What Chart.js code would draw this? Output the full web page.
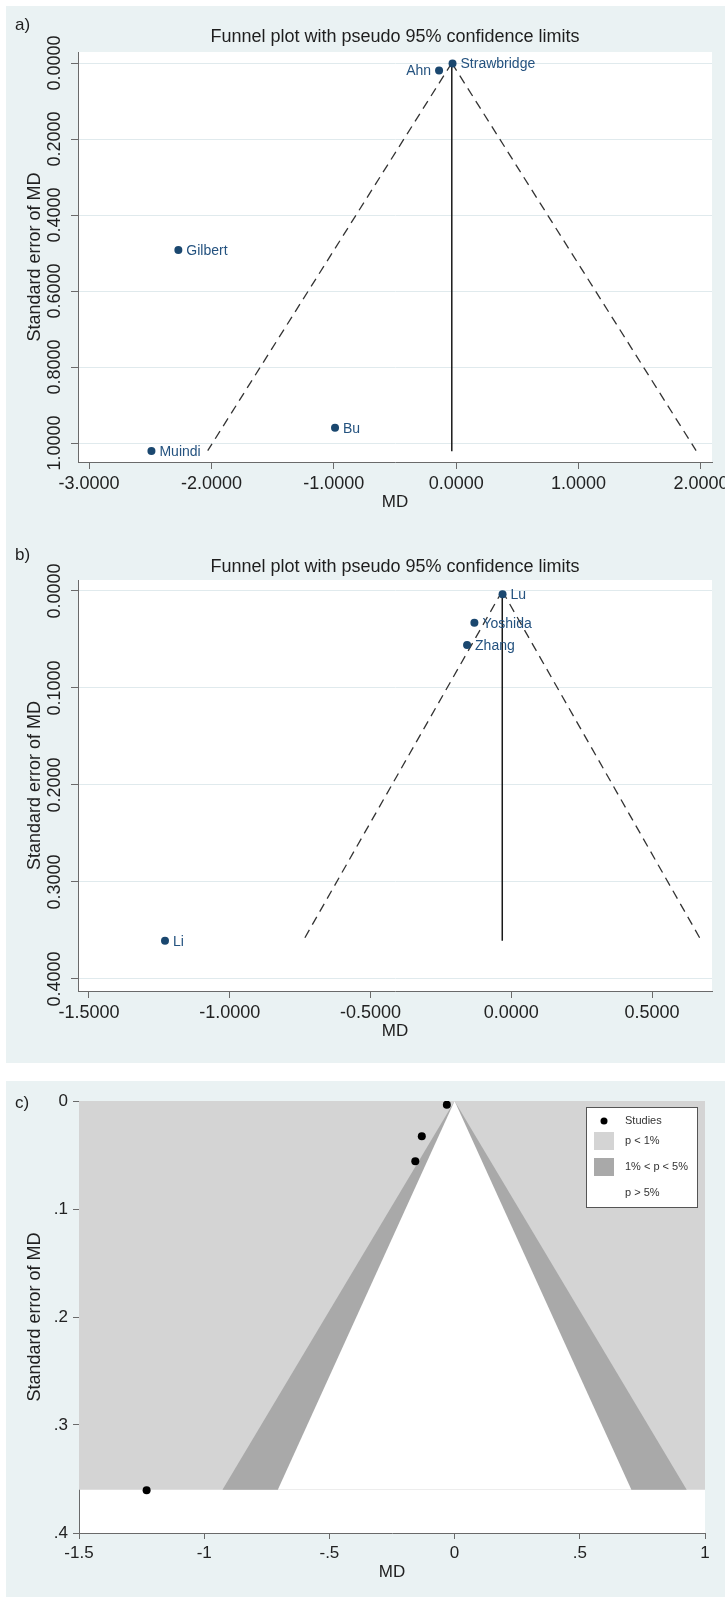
<!DOCTYPE html>
<html>
<head>
<meta charset="utf-8">
<title>Funnel plots</title>
<script src="https://cdn.jsdelivr.net/npm/chart.js@4.4.1/dist/chart.umd.min.js"></script>
<style>
  html, body { margin: 0; padding: 0; background: #ffffff; }
  #page { position: relative; width: 725px; height: 1597px; overflow: hidden; }
  .block { position: absolute; left: 6px; width: 719px; background: #eaf2f3; }
  canvas { position: absolute; left: 6px; }
</style>
</head>
<body>
<div id="page">
  <div class="block" style="top:6px;height:1057px"></div>
  <div class="block" style="top:1081px;height:516px"></div>
  <canvas id="funnelA" width="719" height="526" style="top:6px"></canvas>
  <canvas id="funnelB" width="719" height="526" style="top:532px"></canvas>
  <canvas id="funnelC" width="719" height="516" style="top:1081px"></canvas>
</div>
<script>
// ---- panel a) data ----
const studiesA = ['Strawbridge', 'Ahn', 'Gilbert', 'Bu', 'Muindi'];
const mdA = [-0.03, -0.14, -2.27, -0.99, -2.49];
const seA = [0.001, 0.020, 0.492, 0.960, 1.021];
const pooledLineA = [[-0.036, 0], [-0.036, 1.022]];
const lowerLimitA = [[-0.036, 0], [-2.03, 1.02]];
const upperLimitA = [[-0.036, 0], [1.96, 1.02]];
const xTicksA = [-3, -2, -1, 0, 1, 2];
const yTicksA = [0, 0.2, 0.4, 0.6, 0.8, 1.0];

// ---- panel b) and c) data (same four studies) ----
const studiesB = ['Lu', 'Yoshida', 'Zhang', 'Li'];
const mdB = [-0.031, -0.131, -0.157, -1.23];
const seB = [0.0034, 0.0327, 0.0557, 0.3605];
const pooledLineB = [[-0.032, 0], [-0.032, 0.3605]];
const lowerLimitB = [[-0.032, 0], [-0.739, 0.3605]];
const upperLimitB = [[-0.032, 0], [0.675, 0.3605]];
const xTicksB = [-1.5, -1.0, -0.5, 0, 0.5];
const yTicksB = [0, 0.1, 0.2, 0.3, 0.4];

// contour-enhanced funnel (panel c)
const pLt1Region = [[-1.5, 0], [1, 0], [1, 0.36], [-1.5, 0.36]];
const p1to5Region = [[0, 0], [-0.927, 0.36], [0.927, 0.36]];
const pGt5Region = [[0, 0], [-0.706, 0.36], [0.706, 0.36]];
const xTicksC = [-1.5, -1, -0.5, 0, 0.5, 1];
const yTicksC = [0, 0.1, 0.2, 0.3, 0.4];
const legendLabelsC = ['Studies', 'p < 1%', '1% < p < 5%', 'p > 5%'];

const FONT = '"Liberation Sans", Arial, Helvetica, sans-serif';
Chart.defaults.font.family = FONT;
Chart.defaults.color = '#222222';
Chart.defaults.animation = false;

const navy = '#1a476f';
const axisGray = '#6a6a6a';
const gridBlue = '#e0eaed';

const pts = arr => arr.map(([x, y]) => ({ x, y }));
const studyPts = (md, se) => md.map((x, i) => ({ x, y: se[i] }));

// pin axis box sizes so the plot area sits where the original has it
function fixSize(size) {
  return scale => {
    if (scale.isHorizontal()) scale.height = size; else scale.width = size;
    scale.paddingLeft = scale.paddingRight = 0;
    scale.paddingTop = scale.paddingBottom = 0;
  };
}
function setTicks(values) {
  return scale => { scale.ticks = values.map(v => ({ value: v })); };
}
const fmtStata = v => v === 0 ? '0' : String(v).replace('0.', '.');

// white plot region, panel letter, title, rotated y tick labels
const panelDecor = {
  id: 'panelDecor',
  beforeDraw(chart) {
    const { ctx, chartArea: a } = chart;
    ctx.save();
    ctx.fillStyle = '#ffffff';
    ctx.fillRect(a.left, a.top, a.right - a.left, a.bottom - a.top);
    ctx.restore();
  },
  afterDraw(chart, args, opts) {
    const { ctx, chartArea: a } = chart;
    ctx.save();
    ctx.fillStyle = '#1e1e1e';
    ctx.textBaseline = 'middle';
    ctx.textAlign = 'left';
    ctx.font = '17px ' + FONT;
    if (opts.letter) ctx.fillText(opts.letter, 9, opts.letterY);
    if (opts.title) {
      ctx.font = '18px ' + FONT;
      ctx.textAlign = 'center';
      ctx.fillText(opts.title, (a.left + a.right) / 2, opts.titleY);
    }
    if (opts.rotatedY) {
      const s = chart.scales.y;
      ctx.font = '18px ' + FONT;
      ctx.textAlign = 'center';
      s.ticks.forEach(t => {
        const y = s.getPixelForValue(t.value);
        ctx.save();
        ctx.translate(opts.rotatedY, y);
        ctx.rotate(-Math.PI / 2);
        ctx.fillText(t.value.toFixed(4), 0, 0);
        ctx.restore();
      });
    }
    ctx.restore();
  }
};

// study names next to the markers
const pointLabels = {
  id: 'pointLabels',
  afterDatasetsDraw(chart, args, opts) {
    if (!opts.names) return;
    const meta = chart.getDatasetMeta(0);
    const ctx = chart.ctx;
    ctx.save();
    ctx.font = '14px ' + FONT;
    ctx.fillStyle = opts.color;
    ctx.textBaseline = 'middle';
    meta.data.forEach((pt, i) => {
      const name = opts.names[i];
      const left = (opts.leftOf || []).includes(name);
      ctx.textAlign = left ? 'right' : 'left';
      ctx.fillText(name, pt.x + (left ? -8 : 8), pt.y + 1);
    });
    ctx.restore();
  }
};

// boxed legend inside the plot (panel c)
const contourLegend = {
  id: 'contourLegend',
  afterDraw(chart, args, opts) {
    if (!opts.labels) return;
    const { ctx, chartArea: a } = chart;
    const ds = chart.data.datasets;
    const w = 112, h = 101;
    const x0 = a.right - 7 - w, y0 = a.top + 6;
    const rows = [14, 34, 60, 86];
    ctx.save();
    ctx.fillStyle = '#ffffff';
    ctx.fillRect(x0, y0, w, h);
    ctx.strokeStyle = '#555555';
    ctx.lineWidth = 1;
    ctx.strokeRect(x0 + 0.5, y0 + 0.5, w - 1, h - 1);
    ctx.font = '11px ' + FONT;
    ctx.textBaseline = 'middle';
    ctx.textAlign = 'left';
    opts.labels.forEach((label, i) => {
      const cy = y0 + rows[i];
      const d = ds[i];
      if (i === 0) {
        ctx.fillStyle = d.pointBackgroundColor;
        ctx.beginPath();
        ctx.arc(x0 + 18, cy, 3.5, 0, Math.PI * 2);
        ctx.fill();
      } else if (d.backgroundColor !== '#ffffff') {
        ctx.fillStyle = d.backgroundColor;
        ctx.fillRect(x0 + 8, cy - 9, 20, 18);
      }
      ctx.fillStyle = '#333333';
      ctx.fillText(label, x0 + 39, cy);
    });
    ctx.restore();
  }
};

function limitLine(data, dashed) {
  return {
    data: pts(data), showLine: true, pointRadius: 0,
    borderColor: dashed ? '#333333' : '#1a1a1a',
    borderWidth: dashed ? 1.3 : 1.5,
    borderDash: dashed ? [9, 6] : []
  };
}

function funnelChart(id, cfg) {
  return new Chart(document.getElementById(id), {
    type: 'scatter',
    data: {
      datasets: [
        { label: 'Studies', data: studyPts(cfg.md, cfg.se), pointRadius: 4, pointHoverRadius: 4,
          pointBackgroundColor: navy, pointBorderWidth: 0 },
        limitLine(cfg.pooled, false),
        limitLine(cfg.lower, true),
        limitLine(cfg.upper, true)
      ]
    },
    options: {
      responsive: false,
      layout: { padding: { left: 0, right: 13, top: cfg.top, bottom: 0 } },
      plugins: {
        legend: { display: false },
        tooltip: { enabled: false },
        panelDecor: { letter: cfg.letter, letterY: cfg.letterY, title: 'Funnel plot with pseudo 95% confidence limits',
          titleY: cfg.titleY, rotatedY: 49 },
        pointLabels: { names: cfg.names, color: '#24527f', leftOf: ['Ahn'] }
      },
      scales: {
        x: {
          type: 'linear', min: cfg.xMin, max: cfg.xMax,
          afterBuildTicks: setTicks(cfg.xTicks),
          afterFit: fixSize(cfg.xHeight),
          grid: { drawOnChartArea: false, tickLength: 7, tickColor: axisGray },
          border: { color: axisGray },
          ticks: { callback: v => v.toFixed(4), font: { size: 18 }, padding: 4, color: '#222', maxRotation: 0, autoSkip: false },
          title: { display: true, text: 'MD', font: { size: 17 }, color: '#222', padding: { top: 0, bottom: cfg.mdPad } }
        },
        y: {
          type: 'linear', reverse: true, min: cfg.yMin, max: cfg.yMax,
          afterBuildTicks: setTicks(cfg.yTicks),
          afterFit: fixSize(72),
          grid: { color: gridBlue, tickLength: 7, tickColor: axisGray },
          border: { color: axisGray },
          ticks: { display: false },
          title: { display: true, text: 'Standard error of MD', font: { size: 18 }, color: '#222', padding: { top: 18, bottom: 0 } }
        }
      }
    },
    plugins: [panelDecor, pointLabels]
  });
}

funnelChart('funnelA', {
  letter: 'a)', letterY: 19, titleY: 31, top: 46, xHeight: 70, mdPad: 19,
  names: studiesA, md: mdA, se: seA,
  pooled: pooledLineA, lower: lowerLimitA, upper: upperLimitA,
  xMin: -3.09, xMax: 2.09, yMin: -0.029, yMax: 1.05, xTicks: xTicksA, yTicks: yTicksA
});

funnelChart('funnelB', {
  letter: 'b)', letterY: 23, titleY: 35, top: 48, xHeight: 67, mdPad: 16,
  names: studiesB, md: mdB, se: seB,
  pooled: pooledLineB, lower: lowerLimitB, upper: upperLimitB,
  xMin: -1.539, xMax: 0.713, yMin: -0.0113, yMax: 0.4124, xTicks: xTicksB, yTicks: yTicksB
});

// 3. Contour-enhanced funnel plot
new Chart(document.getElementById('funnelC'), {
  type: 'scatter',
  data: {
    datasets: [
      { label: legendLabelsC[0], data: studyPts(mdB, seB), pointRadius: 4, pointHoverRadius: 4,
        pointBackgroundColor: '#000000', pointBorderWidth: 0 },
      { label: legendLabelsC[1], data: pts(pLt1Region), showLine: true, fill: 'shape',
        backgroundColor: '#d4d4d4', borderWidth: 0, pointRadius: 0, order: 3 },
      { label: legendLabelsC[2], data: pts(p1to5Region), showLine: true, fill: 'shape',
        backgroundColor: '#a9a9a9', borderWidth: 0, pointRadius: 0, order: 2 },
      { label: legendLabelsC[3], data: pts(pGt5Region), showLine: true, fill: 'shape',
        backgroundColor: '#ffffff', borderWidth: 0, pointRadius: 0, order: 1 }
    ]
  },
  options: {
    responsive: false,
    layout: { padding: { left: 0, right: 20, top: 20, bottom: 0 } },
    plugins: {
      legend: { display: false },
      tooltip: { enabled: false },
      panelDecor: { letter: 'c)', letterY: 22 },
      contourLegend: { labels: legendLabelsC }
    },
    scales: {
      x: {
        type: 'linear', min: -1.5, max: 1,
        afterBuildTicks: setTicks(xTicksC),
        afterFit: fixSize(64),
        grid: { drawOnChartArea: false, tickLength: 6, tickColor: axisGray },
        border: { color: axisGray },
        ticks: { callback: fmtStata, font: { size: 17 }, padding: 4, color: '#222', maxRotation: 0, autoSkip: false },
        title: { display: true, text: 'MD', font: { size: 17 }, color: '#222', padding: { top: 0, bottom: 14 } }
      },
      y: {
        type: 'linear', reverse: true, min: 0, max: 0.4,
        afterBuildTicks: setTicks(yTicksC),
        afterFit: fixSize(73),
        grid: { drawOnChartArea: false, tickLength: 6, tickColor: axisGray },
        border: { color: axisGray },
        ticks: { callback: fmtStata, font: { size: 17 }, padding: 5, color: '#222' },
        title: { display: true, text: 'Standard error of MD', font: { size: 18 }, color: '#222', padding: { top: 18, bottom: 0 } }
      }
    }
  },
  plugins: [panelDecor, contourLegend]
});
</script>
</body>
</html>
